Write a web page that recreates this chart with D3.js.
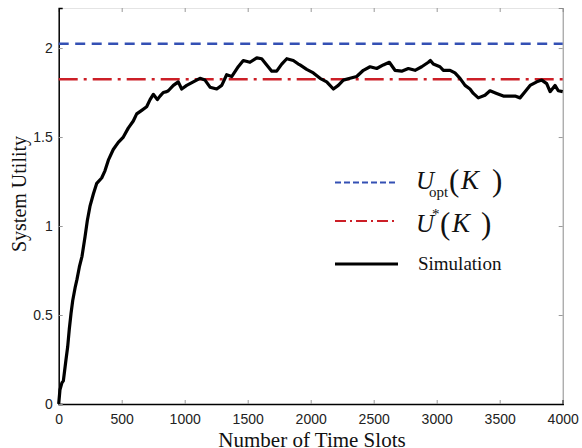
<!DOCTYPE html>
<html>
<head>
<meta charset="utf-8">
<script src="https://cdn.jsdelivr.net/npm/d3@7"></script>
<style>
  body { margin: 0; background: #fff; }
  .tick text { font-family: "Liberation Sans", Arial, sans-serif; font-size: 14px; fill: #222; }
  .serif { font-family: "Liberation Serif", "Times New Roman", serif; fill: #111; }
</style>
</head>
<body>
<svg id="chart" width="582" height="448"></svg>
<script>
// simulation curve
var slots = [0, 10, 26, 37, 44, 58, 71, 84, 98, 111, 132, 145, 164, 185, 209, 227, 248, 275, 302, 341,
  367, 394, 433, 473, 513, 552, 592, 619, 659, 698, 725, 751, 783, 804, 830, 857, 870, 910, 949, 976,
  1016, 1068, 1121, 1161, 1201, 1254, 1294, 1333, 1373, 1425, 1465, 1518, 1572, 1611, 1651, 1691, 1730,
  1770, 1810, 1862, 1902, 1915, 1968, 2021, 2074, 2127, 2180, 2219, 2259, 2312, 2365, 2418, 2471, 2524,
  2576, 2624, 2669, 2722, 2775, 2828, 2881, 2934, 2950, 2973, 3026, 3053, 3106, 3145, 3185, 3225, 3264,
  3291, 3330, 3383, 3423, 3476, 3529, 3582, 3622, 3661, 3701, 3741, 3794, 3834, 3873, 3900, 3939, 3965, 4000];
var utility = [0, 0.08, 0.12, 0.13, 0.17, 0.25, 0.32, 0.42, 0.51, 0.58, 0.66, 0.70, 0.77, 0.83, 0.94, 1.03, 1.11, 1.18, 1.24, 1.27,
  1.31, 1.37, 1.43, 1.47, 1.50, 1.55, 1.59, 1.63, 1.65, 1.67, 1.71, 1.74, 1.71, 1.73, 1.75, 1.755, 1.76, 1.79, 1.81, 1.77,
  1.79, 1.81, 1.83, 1.82, 1.78, 1.77, 1.79, 1.85, 1.84, 1.895, 1.93, 1.92, 1.945, 1.94, 1.905, 1.87, 1.87,
  1.91, 1.94, 1.93, 1.91, 1.905, 1.88, 1.86, 1.83, 1.81, 1.77, 1.79, 1.82, 1.83, 1.84, 1.875, 1.895, 1.885,
  1.905, 1.92, 1.875, 1.87, 1.885, 1.875, 1.895, 1.92, 1.93, 1.91, 1.895, 1.875, 1.875, 1.86, 1.83, 1.79, 1.77,
  1.745, 1.72, 1.735, 1.76, 1.745, 1.73, 1.73, 1.73, 1.72, 1.755, 1.79, 1.81, 1.82, 1.80, 1.755, 1.79, 1.76, 1.755];

var uOpt = 2.024;
var uStar = 1.824;

var xTicks = [0, 500, 1000, 1500, 2000, 2500, 3000, 3500, 4000];
var yTicks = [0, 0.5, 1, 1.5, 2];
var yTickLabels = ["0", "0.5", "1", "1.5", "2"];

var svg = d3.select("#chart"),
    plotLeft = 58.7, plotRight = 562.7, plotTop = 8, plotBottom = 404;

var x = d3.scaleLinear().domain([0, 4000]).range([plotLeft, plotRight]);
var y = d3.scaleLinear().domain([0, 2.225]).range([plotBottom, plotTop]);

// mirrored grey ticks on top and right
svg.append("g")
    .attr("transform", "translate(0," + plotTop + ")")
    .call(d3.axisTop(x).tickValues(xTicks).tickSize(-4).tickFormat(""))
    .call(function(g) {
      g.select(".domain").attr("stroke", "#e4e4e4");
      g.selectAll(".tick line").attr("stroke", "#999");
    });

svg.append("g")
    .attr("transform", "translate(" + plotRight + ",0)")
    .call(d3.axisRight(y).tickValues(yTicks).tickSize(-4).tickFormat(""))
    .call(function(g) {
      g.select(".domain").attr("stroke", "#8a8a8a");
      g.selectAll(".tick line").attr("stroke", "#999");
    });

svg.append("g")
    .attr("transform", "translate(0," + plotBottom + ")")
    .call(d3.axisBottom(x).tickValues(xTicks).tickSize(-4).tickPadding(10).tickFormat(d3.format("d")))
    .call(function(g) {
      g.select(".domain").attr("stroke", "#000").attr("stroke-width", 1.5);
      g.selectAll(".tick line").attr("stroke", "#999");
    });

svg.append("g")
    .attr("transform", "translate(" + plotLeft + ",0)")
    .call(d3.axisLeft(y).tickValues(yTicks).tickSize(-4).tickPadding(6)
      .tickFormat(function(d, i) { return yTickLabels[i]; }))
    .call(function(g) {
      g.select(".domain").attr("stroke", "#000").attr("stroke-width", 1.5);
      g.selectAll(".tick line").attr("stroke", "#999");
    });

// reference levels
svg.append("line")
    .attr("x1", x(0)).attr("x2", x(4000))
    .attr("y1", y(uOpt)).attr("y2", y(uOpt))
    .attr("stroke", "#3450b4").attr("stroke-width", 2.5)
    .attr("stroke-dasharray", "10,6.5");

svg.append("line")
    .attr("x1", x(0)).attr("x2", x(4000))
    .attr("y1", y(uStar)).attr("y2", y(uStar))
    .attr("stroke", "#cc1f27").attr("stroke-width", 2.5)
    .attr("stroke-dasharray", "19,6,3,6");

var line = d3.line()
    .x(function(d, i) { return x(slots[i]); })
    .y(function(d) { return y(d); });

svg.append("path")
    .datum(utility)
    .attr("fill", "none")
    .attr("stroke", "#000")
    .attr("stroke-width", 3.2)
    .attr("stroke-linejoin", "round")
    .attr("d", line);

// legend
var lg = svg.append("g");
lg.append("line").attr("x1", 335).attr("x2", 398).attr("y1", 182.5).attr("y2", 182.5)
    .attr("stroke", "#3450b4").attr("stroke-width", 2).attr("stroke-dasharray", "6,3");
lg.append("line").attr("x1", 335).attr("x2", 398).attr("y1", 221).attr("y2", 221)
    .attr("stroke", "#cc1f27").attr("stroke-width", 2).attr("stroke-dasharray", "11,4,2,4");
lg.append("line").attr("x1", 335).attr("x2", 398).attr("y1", 264).attr("y2", 264)
    .attr("stroke", "#000").attr("stroke-width", 3);

var t1 = lg.append("text").attr("class", "serif").attr("y", 189);
t1.append("tspan").attr("x", 416).attr("font-size", 25).attr("font-style", "italic").text("U");
t1.append("tspan").attr("x", 429).attr("dy", 8).attr("font-size", 15).text("opt");
t1.append("tspan").attr("x", 449).attr("dy", -6).attr("font-size", 31).text("(");
t1.append("tspan").attr("x", 461).attr("dy", -2).attr("font-size", 27).attr("font-style", "italic").text("K");
t1.append("tspan").attr("x", 492).attr("dy", 2).attr("font-size", 31).text(")");

var t2 = lg.append("text").attr("class", "serif").attr("y", 232);
t2.append("tspan").attr("x", 416).attr("font-size", 25).attr("font-style", "italic").text("U");
t2.append("tspan").attr("x", 432).attr("dy", -13).attr("font-size", 15).text("*");
t2.append("tspan").attr("x", 440).attr("dy", 15).attr("font-size", 31).text("(");
t2.append("tspan").attr("x", 452).attr("dy", -2).attr("font-size", 27).attr("font-style", "italic").text("K");
t2.append("tspan").attr("x", 481).attr("dy", 2).attr("font-size", 31).text(")");

lg.append("text").attr("class", "serif")
    .attr("x", 418).attr("y", 270)
    .attr("font-size", 19)
    .text("Simulation");

// axis titles
svg.append("text").attr("class", "serif")
    .attr("transform", "translate(26,194) rotate(-90)")
    .attr("text-anchor", "middle")
    .attr("font-size", 20)
    .text("System Utility");

svg.append("text").attr("class", "serif")
    .attr("x", 312).attr("y", 447)
    .attr("text-anchor", "middle")
    .attr("font-size", 21)
    .text("Number of Time Slots");
</script>
</body>
</html>
